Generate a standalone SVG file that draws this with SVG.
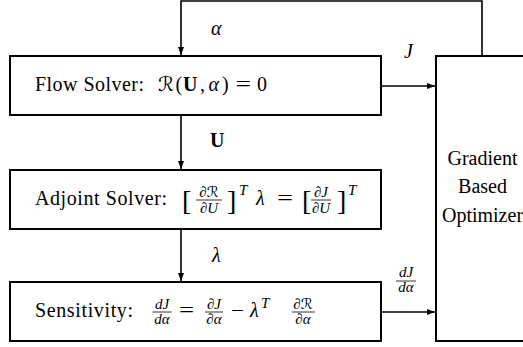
<svg xmlns="http://www.w3.org/2000/svg" width="523" height="347" viewBox="0 0 523 347" font-family="'Liberation Serif', 'Times New Roman', serif">
<style>
.box{fill:#fff;stroke:#000;stroke-width:2}
.conn{fill:none;stroke:#000;stroke-width:1.6}
.bar{stroke:#000;stroke-width:0.8}
.t{font-family:'Liberation Serif','Times New Roman',serif;font-size:20px;fill:#000}
.mi{font-style:italic}
.b{font-weight:bold}
.sm{font-size:15px}
.cal{font-family:'DejaVu Serif','DejaVu Sans',serif;font-style:italic}
.br{font-size:28px}
.mid{text-anchor:middle}
</style>
<defs>
<marker id="arr" markerUnits="userSpaceOnUse" markerWidth="9" markerHeight="7" refX="8" refY="3" orient="auto">
<path d="M0,0 L8,3 L0,6 z" fill="#000"/>
</marker>
</defs>
<rect width="523" height="347" fill="#fff"/>

<g id="flow">
<rect class="box" x="10" y="56" width="371" height="59"/>
<text class="t" x="35" y="91" textLength="109" lengthAdjust="spacing">Flow Solver:</text>
<text class="t cal" x="158" y="91" textLength="16" lengthAdjust="spacingAndGlyphs">ℛ</text>
<text class="t" x="175.5" y="91">(</text>
<text class="t b" x="183" y="91">U</text>
<text class="t" x="200" y="91">,</text>
<text class="t mi" x="208.5" y="91">α</text>
<text class="t" x="222" y="91">)</text>
<text class="t" x="235.5" y="91" textLength="15.6" lengthAdjust="spacingAndGlyphs">=</text>
<text class="t" x="257" y="91">0</text>
</g>

<g id="adjoint">
<rect class="box" x="10" y="170" width="371" height="59"/>
<text class="t" x="35" y="205" textLength="132" lengthAdjust="spacing">Adjoint Solver:</text>
<text class="t br" x="182" y="210">[</text>
<text class="t mi sm mid" x="209" y="197">∂<tspan class="cal">ℛ</tspan></text>
<line class="bar" x1="196" y1="200" x2="222" y2="200"/>
<text class="t mi sm mid" x="209" y="213">∂U</text>
<text class="t br" x="227" y="210">]</text>
<text class="t mi sm" x="239" y="195">T</text>
<text class="t mi" x="256" y="205">λ</text>
<text class="t" x="277" y="205" textLength="16" lengthAdjust="spacingAndGlyphs">=</text>
<text class="t br" x="302" y="210">[</text>
<text class="t mi sm mid" x="321" y="197">∂J</text>
<line class="bar" x1="311" y1="200" x2="331" y2="200"/>
<text class="t mi sm mid" x="321" y="213">∂U</text>
<text class="t br" x="337" y="210">]</text>
<text class="t mi sm" x="348" y="195">T</text>
</g>

<g id="sensitivity">
<rect class="box" x="10" y="282" width="371" height="59"/>
<text class="t" x="35" y="317" textLength="98" lengthAdjust="spacing">Sensitivity:</text>
<text class="t mi sm mid" x="162" y="309">dJ</text>
<line class="bar" x1="152.5" y1="312" x2="171.5" y2="312"/>
<text class="t mi sm mid" x="162" y="324">dα</text>
<text class="t" x="179" y="317" textLength="15" lengthAdjust="spacingAndGlyphs">=</text>
<text class="t mi sm mid" x="214" y="309">∂J</text>
<line class="bar" x1="205" y1="312" x2="223" y2="312"/>
<text class="t mi sm mid" x="214" y="324">∂α</text>
<text class="t" x="231" y="317" textLength="13" lengthAdjust="spacingAndGlyphs">−</text>
<text class="t mi" x="250" y="317">λ</text>
<text class="t mi sm" x="261" y="308">T</text>
<text class="t mi sm mid" x="303" y="309">∂<tspan class="cal">ℛ</tspan></text>
<line class="bar" x1="292" y1="312" x2="315" y2="312"/>
<text class="t mi sm mid" x="303" y="324">∂α</text>
</g>

<g id="optimizer">
<rect class="box" x="436" y="56" width="93" height="285"/>
<text class="t mid" x="482.5" y="165">Gradient</text>
<text class="t mid" x="482.5" y="193">Based</text>
<text class="t mid" x="482.5" y="222">Optimizer</text>
</g>

<g id="connectors">
<path class="conn" d="M482,55 V1 H181 V55" marker-end="url(#arr)"/>
<path class="conn" d="M382,86 H435" marker-end="url(#arr)"/>
<path class="conn" d="M181,116 V169" marker-end="url(#arr)"/>
<path class="conn" d="M181,230 V281" marker-end="url(#arr)"/>
<path class="conn" d="M382,312 H435" marker-end="url(#arr)"/>
<text class="t mi" x="211" y="35">α</text>
<text class="t mi" x="404" y="58">J</text>
<text class="t b" x="210" y="147">U</text>
<text class="t mi" x="212" y="262">λ</text>
<text class="t mi sm mid" x="406" y="277">dJ</text>
<line class="bar" x1="396" y1="281" x2="416" y2="281"/>
<text class="t mi sm mid" x="406" y="292">dα</text>
</g>
</svg>
